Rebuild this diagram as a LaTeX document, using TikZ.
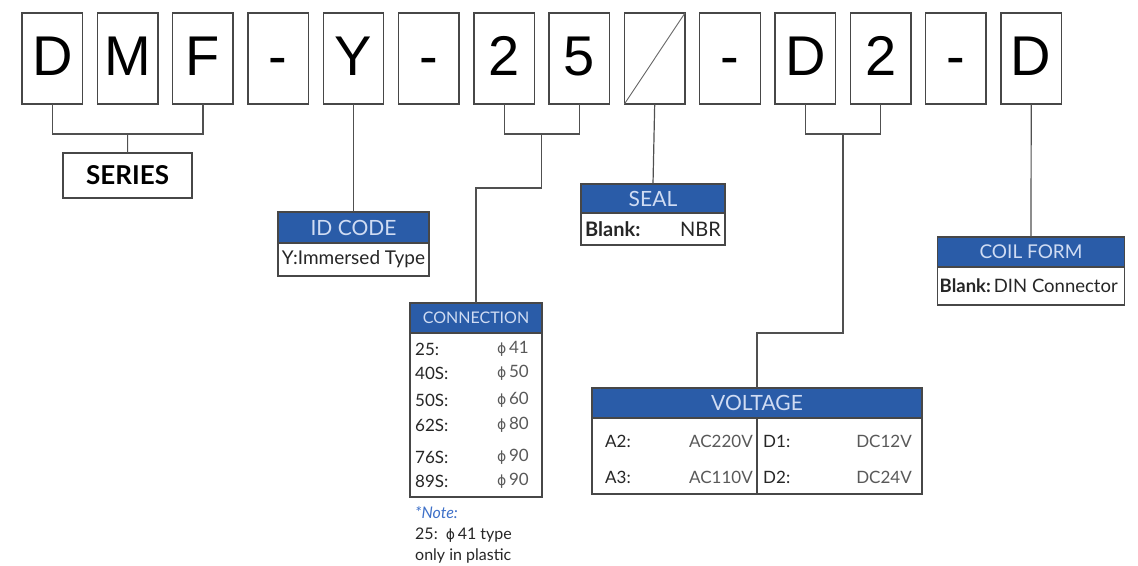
\documentclass[tikz,border=0pt]{standalone}
\usepackage{fontspec}
\setmainfont{Lato}
\newfontfamily\codefont{Liberation Sans}
\newfontfamily\symfont{DejaVu Sans}
\usetikzlibrary{positioning,calc}
\definecolor{hdrblue}{RGB}{42,92,168}
\definecolor{hdrtext}{RGB}{208,220,243}
\definecolor{noteblue}{RGB}{62,112,200}
\definecolor{wiregray}{RGB}{80,80,80}
\newcommand{\fsz}[1]{\fontsize{#1}{#1}\selectfont}
\newcommand{\dia}{{\symfont\fontsize{14}{14}\selectfont ϕ}}

\begin{document}
\begin{tikzpicture}[
      x=1pt, y=-1pt,
      charbox/.style={draw=black!72, line width=1.4pt, outer sep=0pt, inner sep=0pt,
        minimum width=60.5pt, minimum height=91pt, text height=40pt, text depth=6pt, font=\codefont\fsz{56}},
      hdr/.style={draw=black!72, line width=1.3pt, fill=hdrblue, text=hdrtext, outer sep=0pt, inner sep=0pt, font=\fsz{21}},
      bodybox/.style={draw=black!72, line width=1.3pt, fill=white, outer sep=0pt, inner sep=0pt},
      wire/.style={draw=wiregray, line width=1.2pt},
      keytxt/.style={anchor=west, inner sep=0pt, text=black!85, font=\fsz{17}},
      valtxt/.style={anchor=east, inner sep=0pt, text=black!65, font=\fsz{17}}
    ]
      \useasboundingbox (0,0) rectangle (1138,565);

      % code letters
      \foreach \c [count=\i from 0] in {D,M,F,-,Y,-,2,5,{},-,D,2,-,D}
        \node[charbox] (b\i) at (52.3+75.3*\i,58.5) {\c};
      \draw[draw=black!60, line width=0.9pt] (b8.south west) -- (b8.north east);

      % series
      \node[draw=black!72, line width=1.3pt, outer sep=0pt, minimum width=129pt, minimum height=45pt,
        font=\bfseries\fsz{26}] (series) at (127.6,175.5) {SERIES};
      \draw[wire] (b0.south) -- ++(0,30) -| (b2.south);
      \coordinate (sj) at ($(b0.south)!0.5!(b2.south)+(0,30)$);
      \draw[wire] (sj) -- (series.north);

      % id code
      \node[hdr, minimum width=151pt, minimum height=31pt] (idh) at (353.5,227.5) {ID CODE};
      \node[bodybox, minimum width=151pt, minimum height=33pt, below=0pt of idh, text=black!85, font=\fsz{19}] (idb) {Y:Immersed Type};
      \draw[wire] (b4.south) -- (idh.north);

      % connection
      \node[hdr, minimum width=132pt, minimum height=30pt, font=\fsz{16}] (conh) at (476,318) {CONNECTION};
      \node[bodybox, minimum width=132pt, minimum height=164pt, below=0pt of conh] (conb) {};
      \draw[wire] (b6.south) -- ++(0,30) -| (b7.south);
      \coordinate (cj) at ($(b6.south)!0.5!(b7.south)+(0,30)$);
      \draw[wire] (cj) -- ++(0,54) -| (conh.north);
      \foreach \k/\v/\yy [count=\n] in {25:/41/349,40S:/50/373,50S:/60/400,62S:/80/425,76S:/90/457,89S:/90/481} {
        \node[keytxt] (ck\n) at (415,\yy) {\k};
        \node[valtxt] (cv\n) at (529,\yy) {\dia\,\v};
      }
      \node[keytxt, text=noteblue, font=\itshape\fsz{16}] (note1) at (415,513) {*Note:};
      \node[keytxt, font=\fsz{16}] (note2) at (415,535) {25:\ \ \dia\,41 type};
      \node[keytxt, font=\fsz{16}] (note3) at (415,556) {only in plastic};

      % seal
      \node[hdr, minimum width=144pt, minimum height=29pt] (seah) at (653,198.5) {SEAL};
      \node[bodybox, minimum width=144pt, minimum height=32pt, below=0pt of seah] (seab) {};
      \node[keytxt, font=\bfseries\fsz{20}] (sealk) at ([xshift=4pt]seab.west) {Blank:};
      \node[valtxt, text=black!85, font=\fsz{20}] (sealv) at ([xshift=-4pt]seab.east) {NBR};
      \draw[wire] (b8.south) -- (seah.north);

      % voltage
      \node[hdr, minimum width=330pt, minimum height=30pt] (volh) at (757,403) {VOLTAGE};
      \node[bodybox, minimum width=330pt, minimum height=76pt, below=0pt of volh] (volb) {};
      \draw[bodybox] (volh.south) -- (volb.south);
      \draw[wire] (b10.south) -- ++(0,30) -| (b11.south);
      \coordinate (vj) at ($(b10.south)!0.5!(b11.south)+(0,30)$);
      \draw[wire] (vj) -- ++(0,199) -| (volh.north);
      \node[keytxt] (va2) at (605,441) {A2:};
      \node[valtxt] (va2v) at (753,441) {AC220V};
      \node[keytxt] (vd1) at (763,441) {D1:};
      \node[valtxt] (vd1v) at (912,441) {DC12V};
      \node[keytxt] (va3) at (605,477) {A3:};
      \node[valtxt] (va3v) at (753,477) {AC110V};
      \node[keytxt] (vd2) at (763,477) {D2:};
      \node[valtxt] (vd2v) at (912,477) {DC24V};

      % coil form
      \node[hdr, minimum width=187pt, minimum height=30pt, font=\fsz{19}] (coih) at (1031,252) {COIL FORM};
      \node[bodybox, minimum width=187pt, minimum height=38pt, below=0pt of coih] (coib) {};
      \node[keytxt, text=black!85, font=\fsz{18.5}] (coilk) at ([xshift=2pt]coib.west) {{\bfseries Blank:}\,DIN Connector};
      \draw[wire] (b13.south) -- (coih.north);
    \end{tikzpicture}
\end{document}
